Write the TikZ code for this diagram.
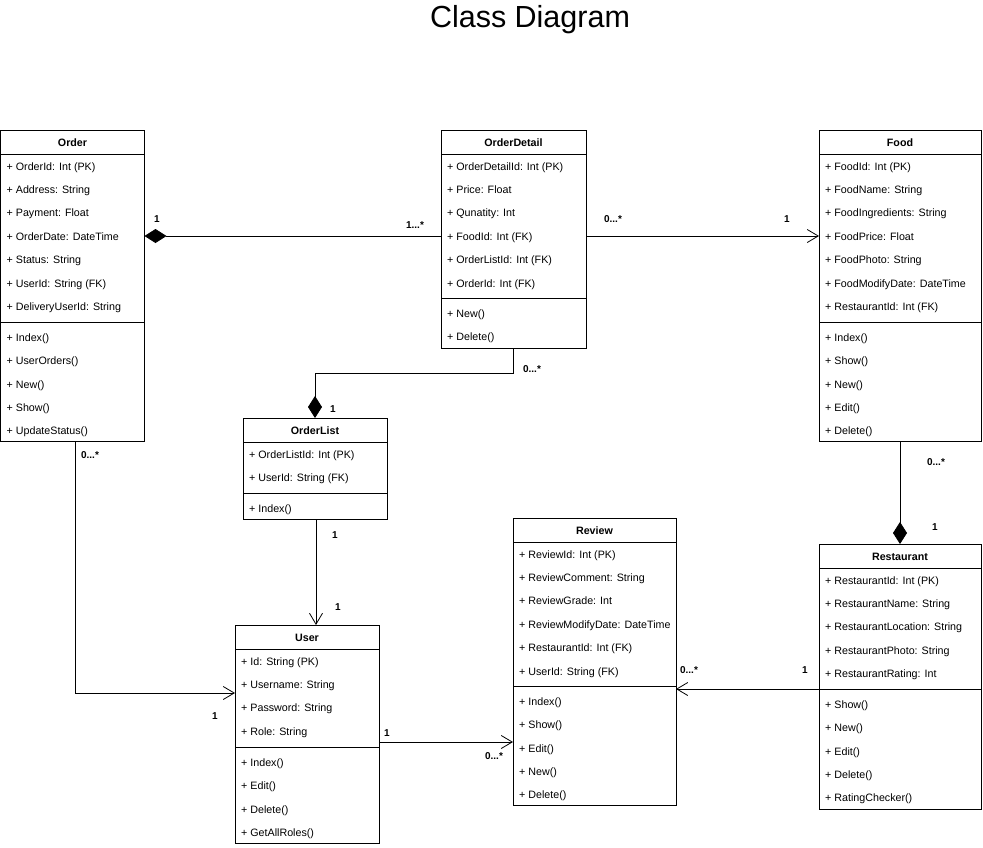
\documentclass[tikz,border=0pt]{standalone}
\usepackage{fontspec}
\setmainfont{Liberation Sans}
\usetikzlibrary{arrows.meta,fit}

\tikzset{
  box/.style={draw=black, line width=0.8pt, inner sep=0pt, outer sep=0pt},
  row/.style={anchor=base west, inner sep=0pt, font=\fontsize{10.7}{12}\selectfont},
  ttl/.style={anchor=base, inner sep=0pt, font=\bfseries\fontsize{10.7}{12}\selectfont},
  lbl/.style={inner sep=0pt, font=\bfseries\fontsize{10}{12}\selectfont},
  sepline/.style={draw=black, line width=0.8pt},
  conn/.style={draw=black, line width=0.8pt},
  comp/.style={conn, {Diamond[length=22pt,width=14pt]}-},
  assoc/.style={conn, -{Straight Barb[length=11pt,width=13pt]}},
}

% #1 name, #2 x, #3 top, #4 width, #5 bottom, #6 title, #7 separator y, #8 attributes, #9 methods
\newcommand\umlclass[9]{%
  \node[box, fit={(#2,#3) ({#2+#4},#5)}] (#1) {};
  \node[ttl] (#1-title) at ({#2+#4/2},{#3+16}) {#6};
  \draw[sepline] (#2,{#3+24}) -- ++(#4,0);
  \coordinate (#1-sep) at (#2,#7);
  \draw[sepline] (#1-sep) -- ++(#4,0);
  \foreach \txt [count=\i] in {#8} {
    \node[row] (#1-a\i) at ({#2+6},{#3+40+23.4*(\i-1)}) {\txt};
  }
  \foreach \txt [count=\i] in {#9} {
    \node[row] (#1-m\i) at ({#2+6},{#7+19.3+23.4*(\i-1)}) {\txt};
  }
}

\begin{document}
\begin{tikzpicture}[x=1pt,y=-1pt]
\useasboundingbox (0,0) rectangle (983,847);

\node[inner sep=0pt, font=\fontsize{30.5}{36}\selectfont] (title) at (530,20) {Class Diagram};

\umlclass{order}{0.5}{130}{144}{441}{Order}{322}
  {+ OrderId: Int (PK), + Address: String, + Payment: Float, + OrderDate: DateTime, + Status: String, + UserId: String (FK), + DeliveryUserId: String}
  {+ Index(), + UserOrders(), + New(), + Show(), + UpdateStatus()}

\umlclass{od}{441}{130}{145}{348}{OrderDetail}{298}
  {+ OrderDetailId: Int (PK), + Price: Float, + Qunatity: Int, + FoodId: Int (FK), + OrderListId: Int (FK), + OrderId: Int (FK)}
  {+ New(), + Delete()}

\umlclass{food}{819}{130}{162}{441}{Food}{322}
  {+ FoodId: Int (PK), + FoodName: String, + FoodIngredients: String, + FoodPrice: Float, + FoodPhoto: String, + FoodModifyDate: DateTime, + RestaurantId: Int (FK)}
  {+ Index(), + Show(), + New(), + Edit(), + Delete()}

\umlclass{olist}{243}{418}{144}{519}{OrderList}{493}
  {+ OrderListId: Int (PK), + UserId: String (FK)}
  {+ Index()}

\umlclass{user}{235}{625}{144}{843}{User}{747}
  {+ Id: String (PK), + Username: String, + Password: String, + Role: String}
  {+ Index(), + Edit(), + Delete(), + GetAllRoles()}

\umlclass{review}{513}{518}{163}{805}{Review}{686}
  {+ ReviewId: Int (PK), + ReviewComment: String, + ReviewGrade: Int, + ReviewModifyDate: DateTime, + RestaurantId: Int (FK), + UserId: String (FK)}
  {+ Index(), + Show(), + Edit(), + New(), + Delete()}

\umlclass{rest}{819}{544}{162}{809}{Restaurant}{689}
  {+ RestaurantId: Int (PK), + RestaurantName: String, + RestaurantLocation: String, + RestaurantPhoto: String, + RestaurantRating: Int}
  {+ Show(), + New(), + Edit(), + Delete(), + RatingChecker()}

% connectors
\coordinate (odrow) at (0,236);
\draw[comp] (order.east |- odrow) -- (od.west |- odrow);
\draw[assoc] (od.east |- odrow) -- (food.west |- odrow);
\draw[comp] (olist.north) |- ([yshift=-25pt]od.south) -- (od.south);
\draw[comp] (rest.north) -- (food.south);
\draw[assoc] ([xshift=1pt]olist.south) -- ([xshift=1pt]olist.south |- user.north);
\draw[assoc] ([xshift=3pt]order.south) |- ([yshift=-68pt]user.north west);
\draw[assoc] ([yshift=-8pt]user.east) -- ([yshift=-8pt]user.east -| review.west);
\draw[assoc] (rest-sep) -- (rest-sep -| review.east);

% multiplicities
\node[lbl] (l1) at (157,219) {1};
\node[lbl] (l2) at (415,225) {1...*};
\node[lbl] (l3) at (613,219) {0...*};
\node[lbl] (l4) at (787,219) {1};
\node[lbl] (l5) at (532,369) {0...*};
\node[lbl] (l6) at (333,409) {1};
\node[lbl] (l7) at (936,462) {0...*};
\node[lbl] (l8) at (935,527) {1};
\node[lbl] (l9) at (335,535) {1};
\node[lbl] (l10) at (338,607) {1};
\node[lbl] (l11) at (90,455) {0...*};
\node[lbl] (l12) at (215,716) {1};
\node[lbl] (l13) at (387,733) {1};
\node[lbl] (l14) at (494,756) {0...*};
\node[lbl] (l15) at (689,670) {0...*};
\node[lbl] (l16) at (805,670) {1};
\end{tikzpicture}
\end{document}
